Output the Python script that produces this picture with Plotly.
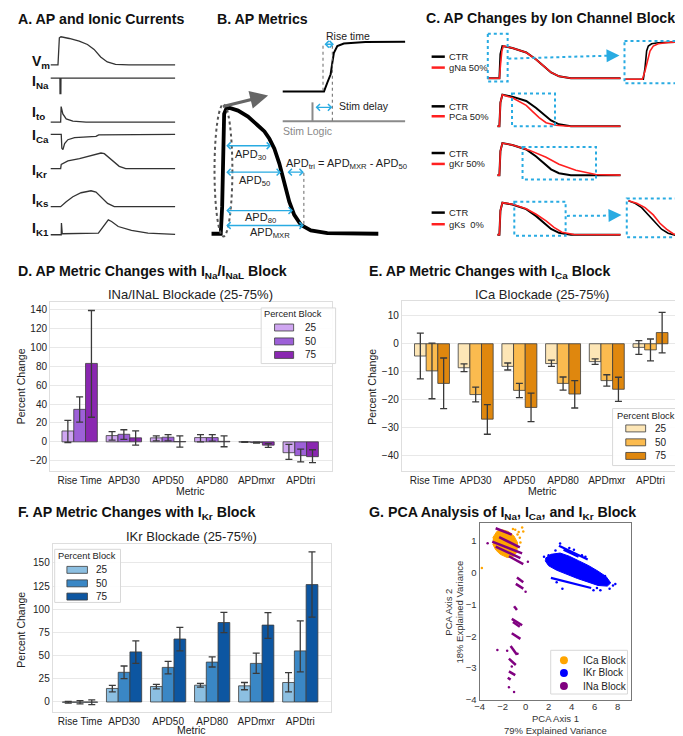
import plotly.graph_objects as go

W, H = 683, 736
FONT = "Liberation Sans, Arial, Helvetica, sans-serif"

# ------------------------------------------------------------------ data
METRICS = ["Rise Time", "APD30", "APD50", "APD80", "APDmxr", "APDtri"]
BLOCKS = ["25", "50", "75"]

# D. INa/INaL block (mean, CI low, CI high)
INA_25 = [11.5, 6.6, 4.2, 4.5, -0.2, -11.5]
INA_25_LO = [-0.7, 1.7, 1.0, 0.0, -0.6, -18.5]
INA_25_HI = [22.6, 10.8, 6.3, 7.7, 0.3, -2.8]
INA_50 = [34.4, 8.0, 4.9, 4.5, -0.8, -14.6]
INA_50_LO = [20.8, 2.5, 1.0, 0.7, -1.3, -21.3]
INA_50_HI = [47.6, 12.8, 7.6, 7.7, -0.3, -7.7]
INA_75 = [83.0, 4.2, 0.3, 0.5, -3.5, -15.7]
INA_75_LO = [26.0, -3.5, -5.6, -5.2, -5.8, -22.0]
INA_75_HI = [139.0, 11.5, 6.3, 6.3, -1.8, -8.4]

# E. ICa block
ICA_25 = [-4.4, -8.6, -8.1, -7.1, -6.4, -1.3]
ICA_25_LO = [-12.6, -10.0, -9.4, -8.1, -7.4, -3.8]
ICA_25_HI = [3.8, -7.2, -6.9, -5.9, -5.4, 1.1]
ICA_50 = [-9.7, -18.2, -16.7, -14.2, -13.2, -2.2]
ICA_50_LO = [-19.7, -20.8, -19.3, -16.6, -15.2, -6.1]
ICA_50_HI = [0.2, -15.5, -14.2, -11.9, -11.1, 1.7]
ICA_75 = [-14.2, -27.0, -22.8, -18.0, -16.3, 4.0]
ICA_75_LO = [-23.2, -32.4, -27.9, -23.0, -20.6, -3.3]
ICA_75_HI = [-5.1, -21.8, -17.7, -13.2, -12.0, 11.2]

# F. IKr block
IKR_25 = [-0.3, 14.6, 16.7, 18.1, 17.4, 21.0]
IKR_25_LO = [-1.2, 11.0, 14.2, 16.0, 13.2, 11.0]
IKR_25_HI = [0.6, 18.0, 18.9, 20.0, 21.0, 31.6]
IKR_50 = [-0.3, 32.0, 37.3, 43.0, 41.6, 55.1]
IKR_50_LO = [-2.1, 25.2, 30.2, 37.7, 30.9, 32.4]
IKR_50_HI = [1.5, 38.8, 43.7, 48.7, 52.6, 87.5]
IKR_75 = [-0.3, 54.0, 67.9, 85.7, 82.9, 126.6]
IKR_75_LO = [-2.8, 41.6, 55.1, 74.7, 68.6, 91.4]
IKR_75_HI = [2.2, 65.8, 80.4, 96.7, 96.4, 161.8]

# G. PCA clusters (axis 1, axis 2)
PCA_GROUPS = ["ICa Block", "IKr Block", "INa Block"]
ICA_BLOB_X = [-2.85, -2.5, -2.0, -1.5, -1.0, -0.7, -0.75, -1.1, -1.6, -2.2, -2.6, -2.85]
ICA_BLOB_Y = [1.1, 1.3, 1.35, 1.3, 1.15, 0.95, 0.65, 0.5, 0.48, 0.58, 0.72, 0.9]
ICA_DOT_X = [-0.9, -0.6, -0.3, -0.5, -3.8, -1.1, -0.45, -0.7, -0.2]
ICA_DOT_Y = [1.35, 1.28, 1.42, 1.1, 0.15, 1.38, 0.95, 1.2, 1.3]
IKR_BLOB_X = [1.7, 2.2, 3.0, 3.8, 4.6, 5.5, 6.3, 7.0, 7.4, 7.1, 6.3, 5.4, 4.5, 3.6, 2.7, 2.0, 1.7]
IKR_BLOB_Y = [0.45, 0.58, 0.62, 0.52, 0.38, 0.22, 0.05, -0.12, -0.32, -0.42, -0.4, -0.3, -0.18, -0.05, 0.08, 0.22, 0.38]
IKR_STREAK_X = [2.9, 5.4, None, 2.2, 5.7, None, 3.3, 4.6, None]
IKR_STREAK_Y = [0.85, 0.42, None, -0.16, -0.48, None, 0.72, 0.5, None]
IKR_DOT_X = [7.6, 7.8, 1.6, 6.5, 3.2, 7.3, 5.9, 2.6, 3.8, 6.9, 2.0, 4.9, 3.0, 4.2, 5.2, 2.7, 6.2]
IKR_DOT_Y = [-0.4, -0.35, 0.5, -0.55, -0.5, -0.5, -0.55, 0.7, 0.78, -0.1, 0.55, 0.55, 0.92, 0.72, 0.5, -0.3, -0.48]
INA_STREAK_X = [-2.6, -1.2, None, -2.9, -0.3, None, -2.6, -0.45, None, -1.45, -0.2, None,
                -2.3, -0.5, None, -0.75, -0.2, None, -0.85, -0.2, None, -1.0, -0.75, None,
                -1.2, -0.3, None, -1.1, -0.5, None, -1.2, -0.45, None, -1.3, -0.75, None,
                -1.45, -0.85, None, -1.45, -0.9, None, -1.55, -1.3, None]
INA_STREAK_Y = [1.4, 1.2, None, 0.98, 0.61, None, 0.82, 0.46, None, 0.52, 0.27, None,
                1.12, 0.8, None, -0.15, -0.3, None, -0.35, -0.5, None, -1.05, -1.17, None,
                -1.45, -1.65, None, -1.55, -1.7, None, -1.9, -2.08, None, -2.3, -2.58, None,
                -2.7, -2.9, None, -3.1, -3.22, None, -3.3, -3.36, None]
INA_DOT_X = [-3.3, -2.45, 0.0, 0.2, -1.0, -0.7, -1.45, -1.6, -1.2]
INA_DOT_Y = [0.93, -2.43, -0.6, 0.35, -3.75, -2.55, -3.6, -2.45, -2.95]

# A. schematic currents: time (px units) / amplitude (px, up positive)
VM_T = [0, 7.3, 8.7, 10.3, 18.7, 28.7, 37, 43.7, 50.3, 57, 65.3, 78.7, 125.3]
VM_V = [0, 0, 27.3, 28.3, 26.6, 24, 20.6, 15.6, 8, 3, 0.6, 0, 0]
CUR_NA_T = [0, 9.3, 9.4, 10.2, 10.3, 125.3]
CUR_NA_V = [0, 0, -15.5, -15.5, 0, 0]
CUR_TO_T = [0, 10, 10.5, 12.2, 15.6, 22.3, 35.6, 125.3]
CUR_TO_V = [0, 0, 15.7, 8.3, 3.3, 1, 0, 0]
CUR_CA_T = [0, 10.6, 11.2, 12.3, 14, 17.3, 24, 35.6, 45.6, 48.3, 125.3]
CUR_CA_V = [0, 0, -14, -15.3, -9.3, -5.3, -3.3, -2.7, -2, -0.4, 0]
CUR_KR_T = [0, 10, 10.6, 12.3, 17.3, 29, 39, 50.6, 54, 62.3, 69, 75.6, 125.3]
CUR_KR_V = [0, 0, 4.3, 5, 7.7, 10, 12.7, 15.7, 15, 8.3, 2.3, 0, 0]
CUR_KS_T = [0, 10, 15.6, 22.3, 30.6, 40.6, 45.6, 50.6, 57.3, 64, 125.3]
CUR_KS_V = [0, 0, 5, 10, 14, 16, 14.7, 10, 3.3, 0, 0]
CUR_K1_T = [0, 10.6, 10.8, 11.6, 48, 53, 58, 61.3, 68, 81.3, 98, 125.3]
CUR_K1_V = [0, 0, 11.7, 1, 1.7, 8.3, 15, 13.3, 8.3, 4.3, 1.7, 0.3]

# B. AP metrics schematic
B_AP_T = [0, 9.3, 10.7, 11.7, 12.7, 15, 18.3, 26.7, 36.7, 46.7, 53.3, 58.3, 63.3, 68.3, 73.3, 78.3, 83.3, 90, 100, 116.7, 168]
B_AP_V = [0, 0, 27.3, 94.3, 120.6, 126.3, 126.6, 124, 118, 109, 103, 95.6, 85.6, 70.6, 50.6, 32.3, 19, 9, 3.3, 0.6, 0]
B_UP_T = [0, 41.6, 45, 48.3, 50, 51.6, 55, 61.6, 83.3, 123.3]
B_UP_V = [0, 0, 9, 17.3, 29, 39, 45.7, 48.3, 49.7, 50]

# C. AP traces (time from upstroke, normalised voltage)
CTR_T = [-12, 0, 1, 3, 13, 27, 37, 45, 52, 60, 72, 122]
CTR_V = [0, 0, 0.75, 1, 0.94, 0.8, 0.58, 0.37, 0.18, 0.06, 0.0, 0]
GNA_T = [-12, 0, 1.2, 2.5, 4, 13, 27, 37, 45, 52, 60, 72, 122]
GNA_V = [0, 0, 0.45, 0.85, 1, 0.94, 0.8, 0.58, 0.37, 0.18, 0.06, 0.0, 0]
PCA_T = [-2, 0, 1, 3, 13, 27, 33, 40, 47, 57, 70, 122]
PCA_V = [0, 0, 0.75, 1, 0.9, 0.66, 0.48, 0.27, 0.11, 0.03, 0, 0]
GKR_T = [-2, 0, 1, 3, 13, 30, 47, 60, 77, 97, 122]
GKR_V = [0, 0, 0.75, 1, 0.94, 0.78, 0.56, 0.34, 0.15, 0.02, 0]
GKS_T = [-2, 0, 1, 3, 13, 27, 37, 47, 55, 63, 75, 122]
GKS_V = [0, 0, 0.75, 1, 0.95, 0.81, 0.64, 0.43, 0.23, 0.08, 0.01, 0]
NA_ZOOM_CTR_T = [0.7, 19, 20.7, 22.3, 24, 27.3, 34, 53.3]
NA_ZOOM_CTR_V = [0, 0, 11.7, 28.4, 33.4, 35.7, 36.7, 37.4]
NA_ZOOM_GNA_T = [0.7, 18, 20.7, 23.3, 25.7, 29, 34, 44, 53.3]
NA_ZOOM_GNA_V = [0, 0, 8.4, 18.4, 28.4, 33.4, 35.7, 37, 37.4]
KS_ZOOM_CTR_T = [0, 6.7, 13.3, 20, 26.7, 33.3, 40, 51.7]
KS_ZOOM_CTR_V = [0, -2.7, -7, -14.3, -22, -28.7, -32.7, -36]
KS_ZOOM_GKS_T = [0, 8.3, 16.7, 25, 31.7, 38.3, 45, 51.7]
KS_ZOOM_GKS_V = [0, -2.7, -7, -14.3, -22.7, -28.7, -33.3, -35.3]

INA_COLORS = ["#cfa6f1", "#9d60d8", "#8a27b1"]
ICA_COLORS = ["#fde6b6", "#fbbb4f", "#df870e"]
IKR_COLORS = ["#8cbfe1", "#3a87c5", "#0d56a1"]
PCA_COLORS = ["#ffa500", "#0000ff", "#800080"]
BLUE = "#29abe2"
RED = "#ff2020"
BAR_EDGE = "rgba(60,60,60,0.8)"

fig = go.Figure()


def place(t, v, x0, y0, sx=1.0, sy=1.0):
    xs = [x0 + a * sx for a in t]
    ys = [y0 - b * sy for b in v]
    return xs, ys


def wave(t, v, x0, y0, color="#333", width=1.3, sy=1.0):
    xs, ys = place(t, v, x0, y0, 1.0, sy)
    fig.add_trace(go.Scatter(x=xs, y=ys, mode="lines", line=dict(color=color, width=width),
                             showlegend=False, hoverinfo="skip", xaxis="x", yaxis="y"))


shapes = []
ann = []


def text(x, y, s, size=11, color="#111", xanchor="left", yanchor="middle", angle=0):
    ann.append(dict(x=x, y=y, xref="x", yref="y", text=s, showarrow=False,
                    font=dict(size=size, color=color, family=FONT),
                    xanchor=xanchor, yanchor=yanchor, textangle=angle))


def line(x0, y0, x1, y1, color, width=1, dash="solid"):
    shapes.append(dict(type="line", xref="x", yref="y", x0=x0, y0=y0, x1=x1, y1=y1,
                       line=dict(color=color, width=width, dash=dash)))


def rect(x0, y0, x1, y1, fill, edge, width=1, dash="solid"):
    shapes.append(dict(type="rect", xref="x", yref="y", x0=x0, y0=y0, x1=x1, y1=y1,
                       fillcolor=fill, line=dict(color=edge, width=width, dash=dash)))


def box(x0, y0, x1, y1):
    rect(x0, y0, x1, y1, "rgba(0,0,0,0)", BLUE, 2, "dot")


def arrow(x, y, ax, ay, color=BLUE, width=1.3, both=True, head=4, size=1.0):
    ann.append(dict(x=x, y=y, ax=ax, ay=ay, xref="x", yref="y", axref="x", ayref="y",
                    text="", showarrow=True, arrowcolor=color, arrowwidth=width,
                    arrowhead=head, startarrowhead=head, arrowsize=size, startarrowsize=size,
                    arrowside="end+start" if both else "end", standoff=0, startstandoff=0))


# ------------------------------------------------------------------ panel titles
TITLE = 14.2
text(3, 11, "<b>A. AP and Ionic Currents</b>", TITLE)
text(203, 11, "<b>B. AP Metrics</b>", TITLE)
text(414, 10.5, "<b>C. AP Changes by Ion Channel Block</b>", TITLE)
text(3, 266, "<b>D. AP Metric Changes with I<sub>Na</sub>/I<sub>NaL</sub> Block</b>", TITLE)
text(357, 266, "<b>E. AP Metric Changes with I<sub>Ca</sub> Block</b>", TITLE)
text(3, 508, "<b>F. AP Metric Changes with I<sub>Kr</sub> Block</b>", TITLE)
text(357, 508, "<b>G. PCA Analysis of I<sub>Na</sub>, I<sub>Ca</sub>, and I<sub>Kr</sub> Block</b>", TITLE)

# ------------------------------------------------------------------ panel A
A_X0 = 38
wave(VM_T, VM_V, A_X0, 57.3)
wave(CUR_NA_T, CUR_NA_V, A_X0, 70.7)
wave(CUR_TO_T, CUR_TO_V, A_X0, 115)
wave(CUR_CA_T, CUR_CA_V, A_X0, 127.3)
wave(CUR_KR_T, CUR_KR_V, A_X0, 161.7)
wave(CUR_KS_T, CUR_KS_V, A_X0, 200)
wave(CUR_K1_T, CUR_K1_V, A_X0, 228.3)
for lab, yy in [("V<sub>m</sub>", 54), ("I<sub>Na</sub>", 74), ("I<sub>to</sub>", 106),
                ("I<sub>Ca</sub>", 129), ("I<sub>Kr</sub>", 164), ("I<sub>Ks</sub>", 193),
                ("I<sub>K1</sub>", 223)]:
    text(17, yy, "<b>" + lab + "</b>", 14)

# ------------------------------------------------------------------ panel B
shapes.append(dict(type="circle", xref="x", yref="y", x0=203, x1=221, y0=97, y1=230,
                   line=dict(color="#555", width=2, dash="dot")))
wave(B_AP_T, B_AP_V, 200, 227.3, color="#000", width=3.8)
arrow(257, 88, 210, 99.5, color="#666", width=3, both=False, head=2, size=1.2)
wave(B_UP_T, B_UP_V, 271.7, 84, color="#000", width=2)
line(271.7, 114, 395, 114, "#8a8a8a", 2)
line(301.7, 95, 301.7, 114, "#8a8a8a", 2)
line(312.3, 38, 312.3, 84, "#666", 1, "dot")
line(321.7, 38, 321.7, 114, "#666", 1, "dot")
arrow(323.3, 36.5, 312.3, 36.5)
arrow(321.7, 100, 303.3, 100)
text(313, 28, "Rise time", 10.5, "#222")
text(326, 98.5, "Stim delay", 10.5, "#222")
text(270, 123.5, "Stim Logic", 10.5, "#888")
line(293, 166, 293, 220, "#666", 1, "dot")
arrow(260, 138.7, 213.3, 138.7)
arrow(270, 165.3, 213.3, 165.3)
arrow(293, 165.3, 275, 165.3)
arrow(282, 204, 213.3, 204)
arrow(293, 219, 213.3, 219)
text(221.5, 148, "APD<sub>30</sub>", 11, "#222")
text(226, 174.5, "APD<sub>50</sub>", 11, "#222")
text(231.5, 211.5, "APD<sub>80</sub>", 11, "#222")
text(236.5, 227, "APD<sub>MXR</sub>", 11, "#222")
text(273, 157.5, "APD<sub>tri</sub> = APD<sub>MXR</sub> - APD<sub>50</sub>", 11, "#222")

# ------------------------------------------------------------------ panel C
C_UP = 490
ROW_BASE = [70.7, 119, 168.3, 228.3]
ROW_H = [32.4, 31.7, 32.3, 32.3]
RED_T = [GNA_T, PCA_T, GKR_T, GKS_T]
RED_V = [GNA_V, PCA_V, GKR_V, GKS_V]
RED_LAB = ["gNa 50%", "PCa 50%", "gKr 50%", "gKs\u00a0 0%"]
for i in range(4):
    if i == 0:
        ct, cv = CTR_T, CTR_V
    else:
        ct, cv = [-2] + CTR_T[1:], [0] + CTR_V[1:]
    wave(ct, cv, C_UP, ROW_BASE[i], color="#000", width=2, sy=ROW_H[i])
    wave(RED_T[i], RED_V[i], C_UP, ROW_BASE[i], color=RED, width=1.6, sy=ROW_H[i])
LEG_Y = [(49, 60), (99, 109), (146, 157), (206, 217.7)]
for i, (yb, yr) in enumerate(LEG_Y):
    line(421.7, yb, 435, yb, "#000", 2.5)
    line(421.7, yr, 435, yr, RED, 2.5)
    text(437.5, yb, "CTR", 9.4, "#222")
    text(437.5, yr, RED_LAB[i], 9.4, "#222")
wave(NA_ZOOM_CTR_T, NA_ZOOM_CTR_V, 616, 71.7, color="#000", width=1.6)
wave(NA_ZOOM_GNA_T, NA_ZOOM_GNA_V, 616, 71.7, color=RED, width=1.6)
wave(KS_ZOOM_CTR_T, KS_ZOOM_CTR_V, 620, 194, color="#000", width=1.6)
wave(KS_ZOOM_GKS_T, KS_ZOOM_GKS_V, 620, 194, color=RED, width=1.6)
box(478.3, 26, 498.3, 74)
box(616, 33.3, 669.3, 75.7)
box(502.7, 86, 546, 119)
box(513.3, 140, 587.3, 172.7)
box(505, 195, 556.7, 229.3)
box(618.3, 191.7, 673, 230.7)
line(499, 51, 600, 48, BLUE, 2, "dot")
arrow(611, 47.7, 599, 48, color=BLUE, width=2, both=False, head=2, size=1.3)
line(558, 209.3, 601, 209, BLUE, 2, "dot")
arrow(613, 208.5, 601, 208.8, color=BLUE, width=2, both=False, head=2, size=1.3)


# ------------------------------------------------------------------ bar panels
def bars(mean_list, lo_list, hi_list, colors, xa, ya):
    for k in range(3):
        m, lo, hi = mean_list[k], lo_list[k], hi_list[k]
        fig.add_trace(go.Bar(
            x=METRICS, y=m, name=BLOCKS[k], xaxis=xa, yaxis=ya, showlegend=False,
            marker=dict(color=colors[k], line=dict(color=BAR_EDGE, width=1)),
            error_y=dict(type="data", symmetric=False,
                         array=[h - v for h, v in zip(hi, m)],
                         arrayminus=[v - l for l, v in zip(lo, m)],
                         color="#3a3a3a", thickness=1.3, width=3.5),
            hoverinfo="skip"))


bars([INA_25, INA_50, INA_75], [INA_25_LO, INA_50_LO, INA_75_LO], [INA_25_HI, INA_50_HI, INA_75_HI],
     INA_COLORS, "x2", "y2")
bars([ICA_25, ICA_50, ICA_75], [ICA_25_LO, ICA_50_LO, ICA_75_LO], [ICA_25_HI, ICA_50_HI, ICA_75_HI],
     ICA_COLORS, "x3", "y3")
bars([IKR_25, IKR_50, IKR_75], [IKR_25_LO, IKR_50_LO, IKR_75_LO], [IKR_25_HI, IKR_50_HI, IKR_75_HI],
     IKR_COLORS, "x4", "y4")


def bar_legend(x0, y0, x1, y1, tx, ty, px0, px1, ys, lx, colors):
    shapes.append(dict(type="rect", xref="x", yref="y", x0=x0, y0=y0, x1=x1, y1=y1,
                       fillcolor="rgba(255,255,255,0.9)", line=dict(color="#d8d8d8", width=1)))
    text(tx, ty, "Percent Block", 9.3, "#222", "center")
    for yy, col, lab in zip(ys, colors, BLOCKS):
        rect(px0, yy - 3.5, px1, yy + 3.5, col, BAR_EDGE, 1)
        text(lx, yy, lab, 10, "#222")


bar_legend(250, 302, 325, 358, 282.3, 308.5, 263.5, 282.7, [321.7, 335.7, 349.3], 292.5, INA_COLORS)
bar_legend(604, 403.3, 673, 460.7, 638, 410.7, 617.3, 637.3, [423.3, 437.3, 451], 645, ICA_COLORS)
bar_legend(42, 545, 108.3, 598.5, 74.5, 551.7, 54.3, 75, [565.7, 579.3, 592.6], 81.7, IKR_COLORS)


# ------------------------------------------------------------------ PCA
def g_trace(**kw):
    fig.add_trace(go.Scatter(xaxis="x5", yaxis="y5", hoverinfo="skip", showlegend=False, **kw))


g_trace(x=ICA_BLOB_X, y=ICA_BLOB_Y, mode="lines", fill="toself", fillcolor=PCA_COLORS[0],
        line=dict(color=PCA_COLORS[0], width=1))
g_trace(x=ICA_DOT_X, y=ICA_DOT_Y, mode="markers", marker=dict(color=PCA_COLORS[0], size=2.5))
g_trace(x=IKR_BLOB_X, y=IKR_BLOB_Y, mode="lines", fill="toself", fillcolor=PCA_COLORS[1],
        line=dict(color=PCA_COLORS[1], width=1))
g_trace(x=IKR_STREAK_X, y=IKR_STREAK_Y, mode="lines", line=dict(color=PCA_COLORS[1], width=2.2))
g_trace(x=IKR_DOT_X, y=IKR_DOT_Y, mode="markers", marker=dict(color=PCA_COLORS[1], size=2.5))
g_trace(x=INA_STREAK_X, y=INA_STREAK_Y, mode="lines", line=dict(color=PCA_COLORS[2], width=2.5))
g_trace(x=INA_DOT_X, y=INA_DOT_Y, mode="markers", marker=dict(color=PCA_COLORS[2], size=2.5))

shapes.append(dict(type="rect", xref="x", yref="y", x0=541.7, y0=646.7, x1=619, y1=690.7,
                   fillcolor="white", line=dict(color="#d8d8d8", width=1)))
for yy, col, lab in zip([656.7, 669.5, 682.7], PCA_COLORS, PCA_GROUPS):
    shapes.append(dict(type="circle", xref="x", yref="y", x0=551, x1=559, y0=yy - 4, y1=yy + 4,
                       fillcolor=col, line=dict(color=col, width=0)))
    text(572.5, yy, lab, 10, "#222")

# ------------------------------------------------------------------ text for charts
text(179, 288, "INa/INaL Blockade (25-75%)", 13, "#222", "center")
text(533, 288, "ICa Blockade (25-75%)", 13, "#222", "center")
text(180, 532.5, "IKr Blockade (25-75%)", 13, "#222", "center")
text(179, 486, "Metric", 10.5, "#222", "center")
text(533, 486, "Metric", 10.5, "#222", "center")
text(180, 727, "Metric", 10.5, "#222", "center")
text(8, 381, "Percent Change", 10.5, "#222", "center", "middle", -90)
text(362, 381, "Percent Change", 10.5, "#222", "center", "middle", -90)
text(8, 626, "Percent Change", 10.5, "#222", "center", "middle", -90)
text(546.5, 715.5, "PCA Axis 1", 9.5, "#333", "center")
text(546.5, 727, "79% Explained Variance", 9.5, "#333", "center")
text(439, 608, "PCA Axis 2", 9.5, "#333", "center", "middle", -90)
text(450, 608, "18% Explained Variance", 9.5, "#333", "center", "middle", -90)


def px_x(p):
    return p / W


def px_y(p):
    return 1 - p / H


def bar_x(d0, d1, rng, anchor):
    return dict(domain=[px_x(d0), px_x(d1)], range=rng, type="category", anchor=anchor,
                categoryorder="array", categoryarray=METRICS,
                showgrid=False, showline=True, mirror=True, linecolor="#dedede", linewidth=1,
                ticks="", tickfont=dict(size=10, color="#222", family=FONT), zeroline=False,
                fixedrange=True)


def bar_y(d0, d1, rng, tv, anchor):
    return dict(domain=[px_y(d1), px_y(d0)], range=rng, tickvals=tv, anchor=anchor,
                showgrid=True, gridcolor="#e8e8e8", gridwidth=1, zeroline=False,
                showline=True, mirror=True, linecolor="#dedede", linewidth=1, ticks="",
                tickfont=dict(size=10, color="#222", family=FONT), fixedrange=True)


fig.update_layout(
    width=W, height=H, margin=dict(l=0, r=0, t=0, b=0),
    paper_bgcolor="white", plot_bgcolor="white", showlegend=False,
    font=dict(family=FONT, color="#222"),
    barmode="group", bargap=0.2, bargroupgap=0,
    xaxis=dict(domain=[0, 1], range=[0, W], visible=False, fixedrange=True),
    yaxis=dict(domain=[0, 1], range=[H, 0], visible=False, fixedrange=True),
    xaxis2=bar_x(37.3, 321, [-0.67, 5.70], "y2"),
    yaxis2=bar_y(296, 466, [-30.7, 148], [-20, 0, 20, 40, 60, 80, 100, 120, 140], "x2"),
    xaxis3=bar_x(391.7, 673, [-0.69, 5.70], "y3"),
    yaxis3=bar_y(295, 466, [-45.5, 15.3], [-40, -30, -20, -10, 0, 10], "x3"),
    xaxis4=bar_x(40, 320, [-0.62, 5.69], "y4"),
    yaxis4=bar_y(540, 709, [-11, 170], [0, 25, 50, 75, 100, 125, 150], "x4"),
    xaxis5=dict(domain=[px_x(470), px_x(623)], range=[-4, 9.2], anchor="y5",
                tickvals=[-4, -2, 0, 2, 4, 6, 8], showgrid=False, zeroline=False,
                showline=True, mirror=True, linecolor="#777", linewidth=1, ticks="",
                ticklabelstandoff=-2,
                tickfont=dict(size=9.5, color="#333", family=FONT), fixedrange=True),
    yaxis5=dict(domain=[px_y(696.7), px_y(519)], range=[-4, 1.55], anchor="x5",
                tickvals=[-4, -3, -2, -1, 0, 1], showgrid=False, zeroline=False,
                showline=True, mirror=True, linecolor="#777", linewidth=1, ticks="",
                tickfont=dict(size=9.5, color="#333", family=FONT), fixedrange=True),
    shapes=shapes, annotations=ann,
)

fig.write_html("out.html")
